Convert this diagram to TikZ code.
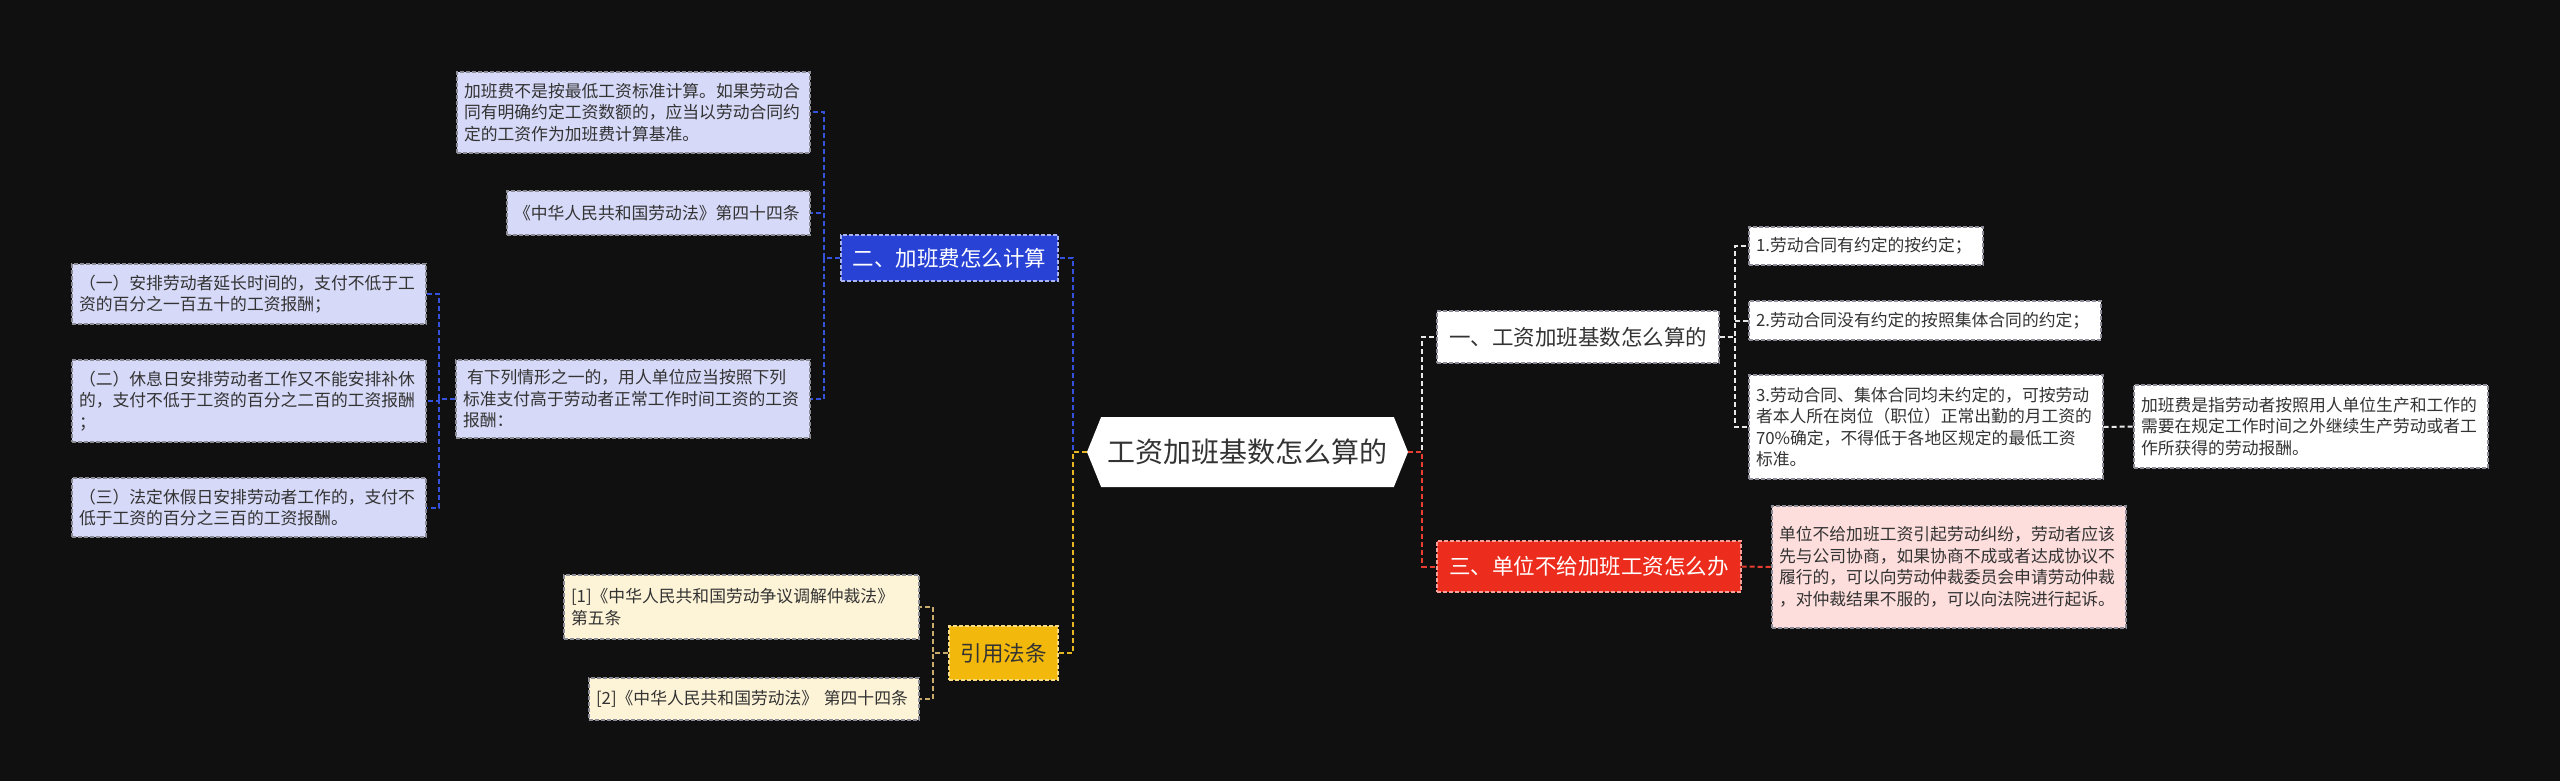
\documentclass[tikz,border=0pt]{standalone}
\usepackage{fontspec}
\setmainfont{Noto Sans CJK SC}
\usepackage{xcolor}
\definecolor{bgdark}{RGB}{16,16,16}
\definecolor{txtdark}{RGB}{51,51,51}
\definecolor{boxedge}{RGB}{140,140,150}
\definecolor{topicblue}{RGB}{40,66,214}
\definecolor{leafblue}{RGB}{214,217,247}
\definecolor{linkblue}{RGB}{52,82,222}
\definecolor{topicyellow}{RGB}{242,184,12}
\definecolor{leafyellow}{RGB}{253,243,215}
\definecolor{linkyellow}{RGB}{230,182,34}
\definecolor{linktan}{RGB}{200,172,108}
\definecolor{topicred}{RGB}{236,45,30}
\definecolor{leafred}{RGB}{253,222,220}
\definecolor{linkred}{RGB}{232,62,50}
\definecolor{linkwhite}{RGB}{232,232,232}
\usetikzlibrary{positioning, shapes.symbols}

\begin{document}
\begin{tikzpicture}[x=1pt, y=-1pt,
  leaf/.style={draw=boxedge, dash pattern=on 4pt off 2pt, line width=1.3pt,
    inner xsep=7pt, inner ysep=5pt, align=left, text=txtdark,
    font=\fontsize{16.8}{21.5}\selectfont},
  topic/.style={draw=boxedge, dash pattern=on 4pt off 2pt, line width=1.3pt,
    inner sep=0pt, align=center, font=\fontsize{21.5}{26}\selectfont},
  link/.style={dash pattern=on 5pt off 3pt, line width=2pt}]

  % canvas
  \fill[bgdark] (0,0) rectangle (2560,781);
  \useasboundingbox (0,0) rectangle (2560,781);

  % Root
  \node[signal, signal to=west and east, signal pointer angle=136, fill=white,
    minimum width=321, minimum height=70, inner sep=0pt, text=txtdark,
    font=\fontsize{28}{32}\selectfont] (root) at (1247.5,452) {工资加班基数怎么算的};

  % Branch 2 (left, blue)
  \node[topic, fill=topicblue, text=white, draw=white!60!topicblue, minimum width=217, minimum height=46] (calc) at (949.5,258) {二、加班费怎么计算};
  \node[leaf, fill=leafblue, text width=339, minimum height=81] (calcBase) at (633.5,112.5)
    {加班费不是按最低工资标准计算。如果劳动合\\同有明确约定工资数额的，应当以劳动合同约\\定的工资作为加班费计算基准。};
  \node[leaf, fill=leafblue, text width=289, minimum height=44] (calcLaw) at (658.5,213)
    {《中华人民共和国劳动法》第四十四条};
  \node[leaf, fill=leafblue, text width=340, minimum height=78] (calcRule) at (633,399)
    {\hspace{4pt}有下列情形之一的，用人单位应当按照下列\\标准支付高于劳动者正常工作时间工资的工资\\报酬：};
  \node[leaf, fill=leafblue, text width=340, minimum height=60] (ruleOne) at (249,294)
    {（一）安排劳动者延长时间的，支付不低于工\\资的百分之一百五十的工资报酬；};
  \node[leaf, fill=leafblue, text width=340, minimum height=82] (ruleTwo) at (249,401)
    {（二）休息日安排劳动者工作又不能安排补休\\的，支付不低于工资的百分之二百的工资报酬\\；};
  \node[leaf, fill=leafblue, text width=340, minimum height=59] (ruleThree) at (249,507.5)
    {（三）法定休假日安排劳动者工作的，支付不\\低于工资的百分之三百的工资报酬。};

  % Branch 4 (left, yellow)
  \node[topic, fill=topicyellow, text=txtdark, draw=white!50!topicyellow, minimum width=109, minimum height=54] (cite) at (1003.5,653) {引用法条};
  \node[leaf, fill=leafyellow, text width=341, minimum height=64] (citeOne) at (741.5,607)
    {[1]《中华人民共和国劳动争议调解仲裁法》\\第五条};
  \node[leaf, fill=leafyellow, text width=316, minimum height=42] (citeTwo) at (754,699)
    {[2]《中华人民共和国劳动法》 第四十四条};

  % Branch 1 (right, white)
  \node[topic, fill=white, text=txtdark, minimum width=282, minimum height=52] (base) at (1578,337) {一、工资加班基数怎么算的};
  \node[leaf, fill=white, text width=220, minimum height=38] (baseOne) at (1866,246)
    {1.劳动合同有约定的按约定；};
  \node[leaf, fill=white, text width=338, minimum height=39] (baseTwo) at (1925,320.5)
    {2.劳动合同没有约定的按照集体合同的约定；};
  \node[leaf, fill=white, text width=340, minimum height=104] (baseThree) at (1926,427)
    {3.劳动合同、集体合同均未约定的，可按劳动\\者本人所在岗位（职位）正常出勤的月工资的\\70\%确定，不得低于各地区规定的最低工资\\标准。};
  \node[leaf, fill=white, text width=340, minimum height=83] (baseDef) at (2311,426.5)
    {加班费是指劳动者按照用人单位生产和工作的\\需要在规定工作时间之外继续生产劳动或者工\\作所获得的劳动报酬。};

  % Branch 3 (right, red)
  \node[topic, fill=topicred, text=white, draw=white!55!topicred, minimum width=304, minimum height=51] (unpaid) at (1589,566.5) {三、单位不给加班工资怎么办};
  \node[leaf, fill=leafred, text width=340, minimum height=122] (unpaidTip) at (1949,567)
    {单位不给加班工资引起劳动纠纷，劳动者应该\\先与公司协商，如果协商不成或者达成协议不\\履行的，可以向劳动仲裁委员会申请劳动仲裁\\，对仲裁结果不服的，可以向法院进行起诉。};

  % connectors
  \draw[linkblue, link] (root.west) -- ++(-14,0) |- (calc.east);
  \draw[linkyellow, link] (root.west) -- ++(-14,0) |- (cite.east);
  \foreach \leafname in {calcBase, calcLaw, calcRule}
    \draw[linkblue, link] (calc.west) -- ++(-16,0) |- (\leafname.east);
  \foreach \leafname in {ruleOne, ruleTwo, ruleThree}
    \draw[linkblue, link] (calcRule.west) -- ++(-16,0) |- (\leafname.east);
  \foreach \leafname in {citeOne, citeTwo}
    \draw[linktan, link] (cite.west) -- ++(-15,0) |- (\leafname.east);
  \draw[linkwhite, link] (root.east) -- ++(14,0) |- (base.west);
  \draw[linkred, link] (root.east) -- ++(14,0) |- (unpaid.west);
  \foreach \leafname in {baseOne, baseTwo, baseThree}
    \draw[linkwhite, link] (base.east) -- ++(15,0) |- (\leafname.west);
  \draw[linkwhite, link] (baseThree.east) -- (baseDef.west);
  \draw[linkred, link] (unpaid.east) -- (unpaidTip.west);
\end{tikzpicture}
\end{document}
